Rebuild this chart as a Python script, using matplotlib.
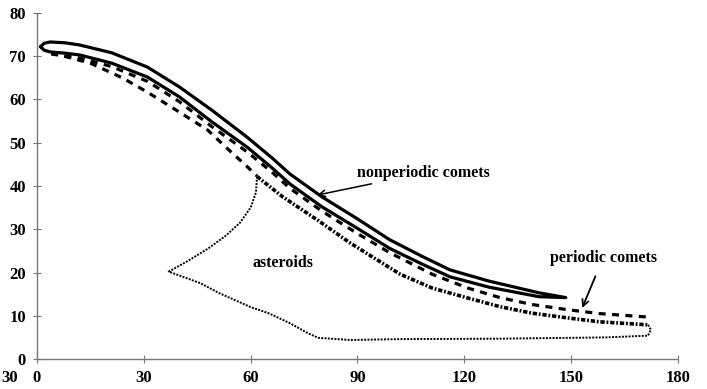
# comet / asteroid distribution curves, redrawn from a scanned figure
import numpy as np
import matplotlib.pyplot as plt

plt.rcParams.update({
    'font.family': 'Liberation Serif',
    'font.weight': 'bold',
    'font.size': 11,
})

# nonperiodic comets: closed band (upper and lower edge)
np_x = [1.0, 2.0, 3.7, 8, 12, 21, 31, 40, 49, 59, 66, 71, 80, 90, 99, 108, 116, 127, 141, 148.5]
np_upper = [72.2, 73.0, 73.3, 73.1, 72.6, 70.8, 67.5, 62.9, 57.6, 51.3, 46.5, 42.8, 37.5, 32.4, 27.6, 23.8, 20.6, 18.0, 15.3, 14.2]
np_lower = [72.2, 71.4, 71.0, 70.7, 70.3, 68.4, 65.2, 60.6, 54.9, 49.0, 44.2, 40.5, 35.2, 30.2, 25.6, 22.0, 19.0, 16.6, 14.4, 14.2]

# periodic comets: dashed line just below the band
per_x = [4, 12, 21, 31, 40, 49, 59, 66, 71, 80, 90, 99, 111, 121, 130, 139, 149, 158, 171.6]
per_y = [70.5, 69.6, 67.6, 64.2, 59.5, 53.8, 47.9, 43.2, 39.5, 34.2, 29.0, 24.6, 19.6, 16.4, 14.2, 12.6, 11.4, 10.5, 9.7]

# lower dashed branch ending at the asteroid peak
low_x = [4, 15, 24, 31, 39, 48, 53, 59, 61.8]
low_y = [70.8, 68.4, 65.0, 61.7, 57.6, 52.9, 49.0, 44.5, 42.3]

# asteroids: upper edge (heavy dotted) and the rest of the loop (thin dotted)
ast_top_x = [61.8, 69, 79, 88, 102, 111, 121, 130, 139, 149, 158, 171.6]
ast_top_y = [42.2, 37.5, 32.0, 26.8, 19.6, 16.4, 14.1, 12.1, 10.6, 9.5, 8.6, 7.9]
ast_loop_x = [61.8, 61.5, 60, 57, 53, 48, 42, 37, 46, 51, 60, 65, 71, 76, 79, 88, 102, 130, 160, 171.6, 172.4, 171.6]
ast_loop_y = [42.2, 38.5, 35, 31.5, 28.5, 25.5, 22.5, 20.2, 17.5, 15.3, 12.0, 10.6, 8.3, 6.0, 4.9, 4.4, 4.6, 4.7, 5.0, 5.4, 6.8, 7.9]

x_ticks = [0, 30, 60, 90, 120, 150, 180]
y_ticks = [0, 10, 20, 30, 40, 50, 60, 70, 80]

fig = plt.figure(figsize=(7.07, 3.89), dpi=100)
ax = fig.add_axes([0.0523, 0.0771, 0.9066, 0.8895])

# nonperiodic band as one closed outline
band_x = np_x + np_x[::-1]
band_y = np_upper + np_lower[::-1]
ax.plot(band_x, band_y, color='black', lw=2.3, solid_joinstyle='round', solid_capstyle='round')

ax.plot(per_x, per_y, color='black', lw=2.3, linestyle=(0, (2.2, 2.0)))
ax.plot(low_x, low_y, color='black', lw=2.3, linestyle=(0, (2.2, 2.0)))
ax.plot(ast_top_x, ast_top_y, color='black', lw=2.6, linestyle=(0, (1.2, 0.5, 0.5, 0.5)))
ax.plot(ast_loop_x, ast_loop_y, color='black', lw=1.4, linestyle=(0, (1, 0.7)))

# labels and arrows
ax.annotate('nonperiodic comets', xy=(78.7, 37.9), xytext=(89.9, 43),
            fontsize=11.5, fontweight='bold', va='center', ha='left',
            arrowprops=dict(arrowstyle='->', color='black', lw=1.1, shrinkA=0, shrinkB=0))
ax.annotate('periodic comets', xy=(153.1, 11.8), xytext=(159, 23.4),
            fontsize=11.5, fontweight='bold', va='center', ha='center',
            arrowprops=dict(arrowstyle='->', color='black', lw=1.3, shrinkA=6, shrinkB=0))
ax.text(69.1, 22.2, 'asteroids', fontsize=11.5, fontweight='bold', ha='center', va='center')

ax.set_xlim(0, 180)
ax.set_ylim(0, 80)
ax.set_xticks(x_ticks)
ax.set_yticks(y_ticks)
ax.tick_params(direction='inout', length=6, width=0.8, color='#777777', labelsize=12, pad=5)

for side in ['top', 'right']:
    ax.spines[side].set_visible(False)
for side in ['left', 'bottom']:
    ax.spines[side].set_linestyle((0, (1, 1)))
    ax.spines[side].set_color('#777777')
    ax.spines[side].set_linewidth(1.0)

# stray tick label at the left edge of the scan
fig.text(1 / 707, 1 - 378 / 389, '30', ha='left', va='center', fontsize=12, fontweight='bold')

fig.savefig('out.png', dpi=100)
